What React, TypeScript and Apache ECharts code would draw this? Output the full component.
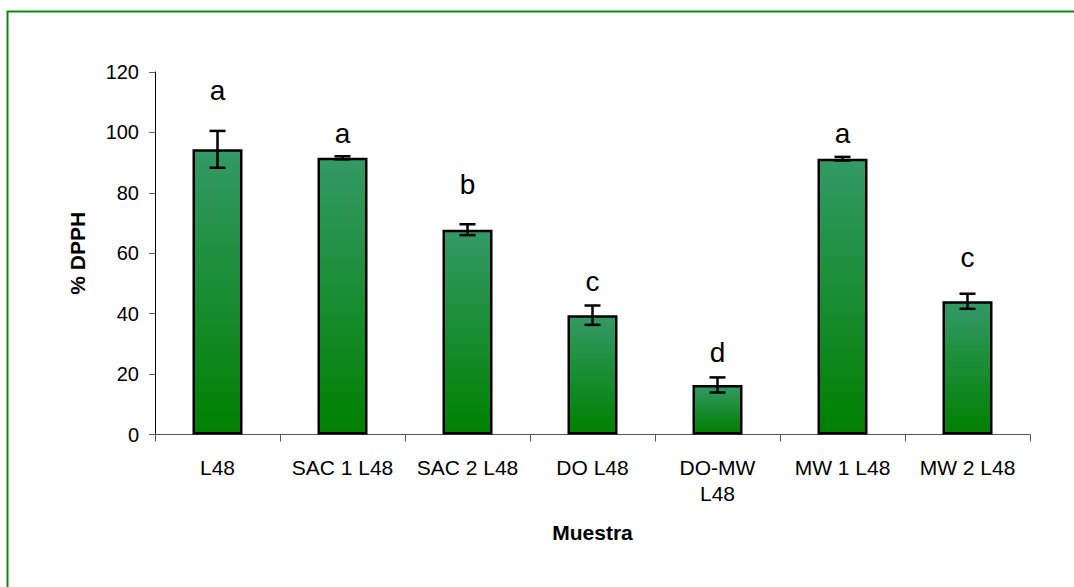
import React, { useEffect, useRef } from "react";
import * as echarts from "echarts";

const categories = ["L48", "SAC 1 L48", "SAC 2 L48", "DO L48", "DO-MW\nL48", "MW 1 L48", "MW 2 L48"];
const means = [94.4, 91.6, 67.8, 39.5, 16.4, 91.3, 44.1];
const errors = [6.1, 0.5, 1.8, 3.2, 2.5, 0.6, 2.5];
const letters = ["a", "a", "b", "c", "d", "a", "c"];
const letterY = [114, 99.5, 82.9, 50.6, 27, 99.5, 58.5];
const yTicks = { min: 0, max: 120, interval: 20 };

const FONT = "'Liberation Sans', Arial, sans-serif";

export default function App() {
  const ref = useRef<HTMLDivElement>(null);
  useEffect(() => {
    document.body.style.margin = "0";
    const chart = echarts.init(ref.current!, null, { renderer: "svg" });
    chart.setOption({
      animation: false,
      backgroundColor: "#ffffff",
      graphic: [
        {
          type: "rect",
          shape: { x: 7.5, y: 11.5, width: 1100, height: 700 },
          style: { fill: "none", stroke: "#0a8a0a", lineWidth: 2 },
          silent: true,
        },
      ],
      grid: { left: 155, right: 44, top: 72, bottom: 152.5, containLabel: false },
      xAxis: {
        type: "category",
        data: categories,
        name: "Muestra",
        nameLocation: "middle",
        nameGap: 87,
        nameTextStyle: { fontFamily: FONT, fontSize: 21, fontWeight: "bold", color: "#000" },
        axisLine: { lineStyle: { color: "#555", width: 1 } },
        axisTick: { show: true, length: 7, lineStyle: { color: "#555" } },
        axisLabel: {
          fontFamily: FONT,
          fontSize: 21,
          color: "#000",
          margin: 20,
          lineHeight: 26,
          interval: 0,
        },
      },
      yAxis: {
        type: "value",
        min: yTicks.min,
        max: yTicks.max,
        interval: yTicks.interval,
        name: "% DPPH",
        nameLocation: "middle",
        nameGap: 67,
        nameRotate: 90,
        nameTextStyle: { fontFamily: FONT, fontSize: 21, fontWeight: "bold", color: "#000" },
        splitLine: { show: false },
        axisLine: { show: true, lineStyle: { color: "#000", width: 1 } },
        axisTick: { show: true, length: 6, lineStyle: { color: "#666" } },
        axisLabel: { fontFamily: FONT, fontSize: 20, color: "#000", margin: 16 },
      },
      series: [
        {
          type: "bar",
          data: means,
          barWidth: "40%",
          itemStyle: {
            color: new echarts.graphic.LinearGradient(0, 0, 0, 1, [
              { offset: 0, color: "#339966" },
              { offset: 1, color: "#008000" },
            ]),
            borderColor: "#000",
            borderWidth: 2.5,
          },
          z: 2,
        },
        {
          type: "custom",
          data: means.map((m, i) => [i, m, errors[i]]),
          z: 5,
          renderItem: (params: any, api: any) => {
            const i = api.value(0);
            const m = api.value(1);
            const e = api.value(2);
            const top = api.coord([i, m + e]);
            const bot = api.coord([i, m - e]);
            const hw = 8;
            const style = { stroke: "#000", lineWidth: 2.5 };
            return {
              type: "group",
              children: [
                { type: "line", shape: { x1: top[0], y1: top[1], x2: bot[0], y2: bot[1] }, style },
                { type: "line", shape: { x1: top[0] - hw, y1: top[1], x2: top[0] + hw, y2: top[1] }, style },
                { type: "line", shape: { x1: bot[0] - hw, y1: bot[1], x2: bot[0] + hw, y2: bot[1] }, style },
              ],
            };
          },
        },
        {
          type: "custom",
          data: letterY.map((y, i) => [i, y]),
          z: 6,
          renderItem: (params: any, api: any) => {
            const idx = params.dataIndex;
            const p = api.coord([api.value(0), api.value(1)]);
            return {
              type: "text",
              x: p[0],
              y: p[1],
              style: {
                text: letters[idx],
                fontFamily: FONT,
                fontSize: 28,
                fill: "#000",
                align: "center",
                verticalAlign: "middle",
              },
            };
          },
        },
      ],
    });
    return () => chart.dispose();
  }, []);
  return <div ref={ref} style={{ width: 1074, height: 587 }} />;
}
